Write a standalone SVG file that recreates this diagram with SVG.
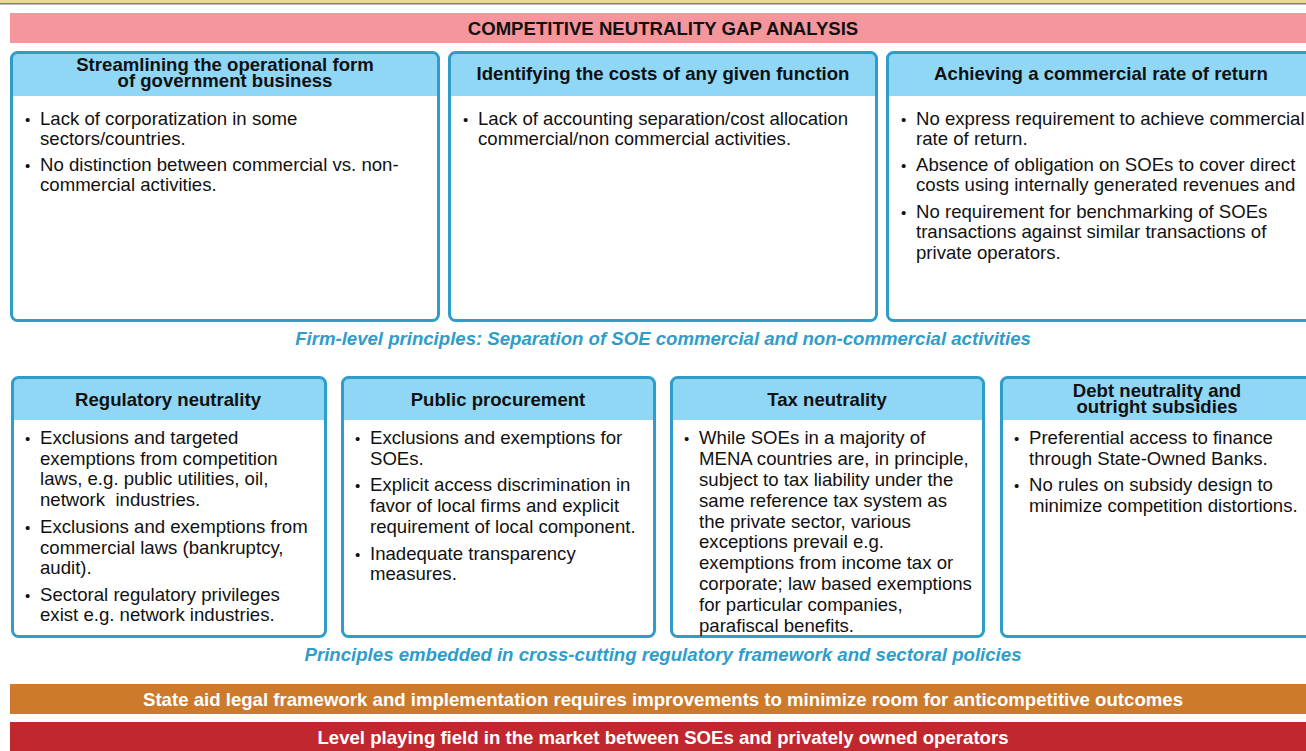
<svg xmlns="http://www.w3.org/2000/svg" width="1306" height="751" viewBox="0 0 1306 751">
<defs>
<style>
.hdr{fill:#8fd7f5}
.box{fill:#ffffff}
.out{fill:none;stroke:#2f9dc9;stroke-width:3}
.ht{font-family:"Liberation Sans",Arial,sans-serif;font-weight:bold;font-size:18.6px;fill:#111;text-anchor:middle}
.bt{font-family:"Liberation Sans",Arial,sans-serif;font-size:18.6px;fill:#111}
.bu{font-size:15px}
.it{font-family:"Liberation Sans",Arial,sans-serif;font-weight:bold;font-style:italic;font-size:18.6px;fill:#2f9dc9;text-anchor:middle}
.bar{font-family:"Liberation Sans",Arial,sans-serif;font-weight:bold;font-size:18.6px;fill:#ffffff;text-anchor:middle}
</style>
</defs>
<rect x="0" y="0" width="1306" height="751" fill="#ffffff"/>
<rect x="0" y="0" width="1306" height="3" fill="#e8dc8c"/>
<rect x="0" y="3" width="1306" height="1.5" fill="#808080"/>

<g id="title">
<rect x="10" y="13" width="1296" height="30" fill="#f4969b"/>
<text class="ht" x="663" y="35">COMPETITIVE NEUTRALITY GAP ANALYSIS</text>
</g>

<g id="box-streamlining">
<rect class="box" x="11.5" y="52.5" width="427" height="268" rx="6"/>
<path class="hdr" d="M11.5 96 V58.5 a6 6 0 0 1 6 -6 H432.5 a6 6 0 0 1 6 6 V96 Z"/>
<rect class="out" x="11.5" y="52.5" width="427" height="268" rx="6"/>
<text class="ht"><tspan x="225" y="71">Streamlining the operational form</tspan><tspan x="225" y="87">of government business</tspan></text>
<text class="bt"><tspan class="bu" x="25" y="125">•</tspan><tspan x="40" y="125">Lack of corporatization in some</tspan><tspan x="40" y="145">sectors/countries.</tspan><tspan class="bu" x="25" y="171">•</tspan><tspan x="40" y="171">No distinction between commercial vs. non-</tspan><tspan x="40" y="191">commercial activities.</tspan></text>
</g>

<g id="box-costs">
<rect class="box" x="449.5" y="52.5" width="427" height="268" rx="6"/>
<path class="hdr" d="M449.5 96 V58.5 a6 6 0 0 1 6 -6 H870.5 a6 6 0 0 1 6 6 V96 Z"/>
<rect class="out" x="449.5" y="52.5" width="427" height="268" rx="6"/>
<text class="ht" x="663" y="80">Identifying the costs of any given function</text>
<text class="bt"><tspan class="bu" x="463" y="125">•</tspan><tspan x="478" y="125">Lack of accounting separation/cost allocation</tspan><tspan x="478" y="145">commercial/non commercial activities.</tspan></text>
</g>

<g id="box-return">
<rect class="box" x="887.5" y="52.5" width="440" height="268" rx="6"/>
<path class="hdr" d="M887.5 96 V58.5 a6 6 0 0 1 6 -6 H1321.5 a6 6 0 0 1 6 6 V96 Z"/>
<rect class="out" x="887.5" y="52.5" width="440" height="268" rx="6"/>
<text class="ht" x="1101" y="80">Achieving a commercial rate of return</text>
<text class="bt"><tspan class="bu" x="901" y="125">•</tspan><tspan x="916" y="125">No express requirement to achieve commercial</tspan><tspan x="916" y="145">rate of return.</tspan><tspan class="bu" x="901" y="171">•</tspan><tspan x="916" y="171">Absence of obligation on SOEs to cover direct</tspan><tspan x="916" y="191">costs using internally generated revenues and</tspan><tspan class="bu" x="901" y="218">•</tspan><tspan x="916" y="218">No requirement for benchmarking of SOEs</tspan><tspan x="916" y="238">transactions against similar transactions of</tspan><tspan x="916" y="259">private operators.</tspan></text>
</g>

<text id="label-firm" class="it" x="663" y="345">Firm-level principles: Separation of SOE commercial and non-commercial activities</text>

<g id="box-regulatory">
<rect class="box" x="12.5" y="377.5" width="313" height="259" rx="6"/>
<path class="hdr" d="M12.5 420 V383.5 a6 6 0 0 1 6 -6 H319.5 a6 6 0 0 1 6 6 V420 Z"/>
<rect class="out" x="12.5" y="377.5" width="313" height="259" rx="6"/>
<text class="ht" x="168" y="406">Regulatory neutrality</text>
<text class="bt"><tspan class="bu" x="25" y="444">•</tspan><tspan x="40" y="444">Exclusions and targeted</tspan><tspan x="40" y="465">exemptions from competition</tspan><tspan x="40" y="485">laws, e.g. public utilities, oil,</tspan><tspan x="40" y="506" xml:space="preserve">network  industries.</tspan><tspan class="bu" x="25" y="533">•</tspan><tspan x="40" y="533">Exclusions and exemptions from</tspan><tspan x="40" y="554">commercial laws (bankruptcy,</tspan><tspan x="40" y="574">audit).</tspan><tspan class="bu" x="25" y="601">•</tspan><tspan x="40" y="601">Sectoral regulatory privileges</tspan><tspan x="40" y="621">exist e.g. network industries.</tspan></text>
</g>

<g id="box-procurement">
<rect class="box" x="342.5" y="377.5" width="312" height="259" rx="6"/>
<path class="hdr" d="M342.5 420 V383.5 a6 6 0 0 1 6 -6 H648.5 a6 6 0 0 1 6 6 V420 Z"/>
<rect class="out" x="342.5" y="377.5" width="312" height="259" rx="6"/>
<text class="ht" x="498" y="406">Public procurement</text>
<text class="bt"><tspan class="bu" x="355" y="444">•</tspan><tspan x="370" y="444">Exclusions and exemptions for</tspan><tspan x="370" y="465">SOEs.</tspan><tspan class="bu" x="355" y="491">•</tspan><tspan x="370" y="491">Explicit access discrimination in</tspan><tspan x="370" y="512">favor of local firms and explicit</tspan><tspan x="370" y="533">requirement of local component.</tspan><tspan class="bu" x="355" y="560">•</tspan><tspan x="370" y="560">Inadequate transparency</tspan><tspan x="370" y="580">measures.</tspan></text>
</g>

<g id="box-tax">
<rect class="box" x="671.5" y="377.5" width="312" height="259" rx="6"/>
<path class="hdr" d="M671.5 420 V383.5 a6 6 0 0 1 6 -6 H977.5 a6 6 0 0 1 6 6 V420 Z"/>
<rect class="out" x="671.5" y="377.5" width="312" height="259" rx="6"/>
<text class="ht" x="827" y="406">Tax neutrality</text>
<text class="bt"><tspan class="bu" x="684" y="444">•</tspan><tspan x="699" y="444">While SOEs in a majority of</tspan><tspan x="699" y="465">MENA countries are, in principle,</tspan><tspan x="699" y="486">subject to tax liability under the</tspan><tspan x="699" y="507">same reference tax system as</tspan><tspan x="699" y="528">the private sector, various</tspan><tspan x="699" y="548">exceptions prevail e.g.</tspan><tspan x="699" y="569">exemptions from income tax or</tspan><tspan x="699" y="590">corporate; law based exemptions</tspan><tspan x="699" y="611">for particular companies,</tspan><tspan x="699" y="632">parafiscal benefits.</tspan></text>
</g>

<g id="box-debt">
<rect class="box" x="1001.5" y="377.5" width="320" height="259" rx="6"/>
<path class="hdr" d="M1001.5 420 V383.5 a6 6 0 0 1 6 -6 H1315.5 a6 6 0 0 1 6 6 V420 Z"/>
<rect class="out" x="1001.5" y="377.5" width="320" height="259" rx="6"/>
<text class="ht"><tspan x="1157" y="397">Debt neutrality and</tspan><tspan x="1157" y="413">outright subsidies</tspan></text>
<text class="bt"><tspan class="bu" x="1014" y="444">•</tspan><tspan x="1029" y="444">Preferential access to finance</tspan><tspan x="1029" y="465">through State-Owned Banks.</tspan><tspan class="bu" x="1014" y="491">•</tspan><tspan x="1029" y="491">No rules on subsidy design to</tspan><tspan x="1029" y="512">minimize competition distortions.</tspan></text>
</g>

<text id="label-cross" class="it" x="663" y="661" textLength="717" lengthAdjust="spacingAndGlyphs">Principles embedded in cross-cutting regulatory framework and sectoral policies</text>

<g id="bar-state-aid">
<rect x="10" y="684" width="1296" height="30" fill="#cd7a2d"/>
<text class="bar" x="663" y="706" textLength="1040" lengthAdjust="spacingAndGlyphs">State aid legal framework and implementation requires improvements to minimize room for anticompetitive outcomes</text>
</g>

<g id="bar-level">
<rect x="10" y="722" width="1296" height="29" fill="#c1272f"/>
<text class="bar" x="663" y="744" textLength="691" lengthAdjust="spacingAndGlyphs">Level playing field in the market between SOEs and privately owned operators</text>
</g>

<g id="connectors"></g>
</svg>
